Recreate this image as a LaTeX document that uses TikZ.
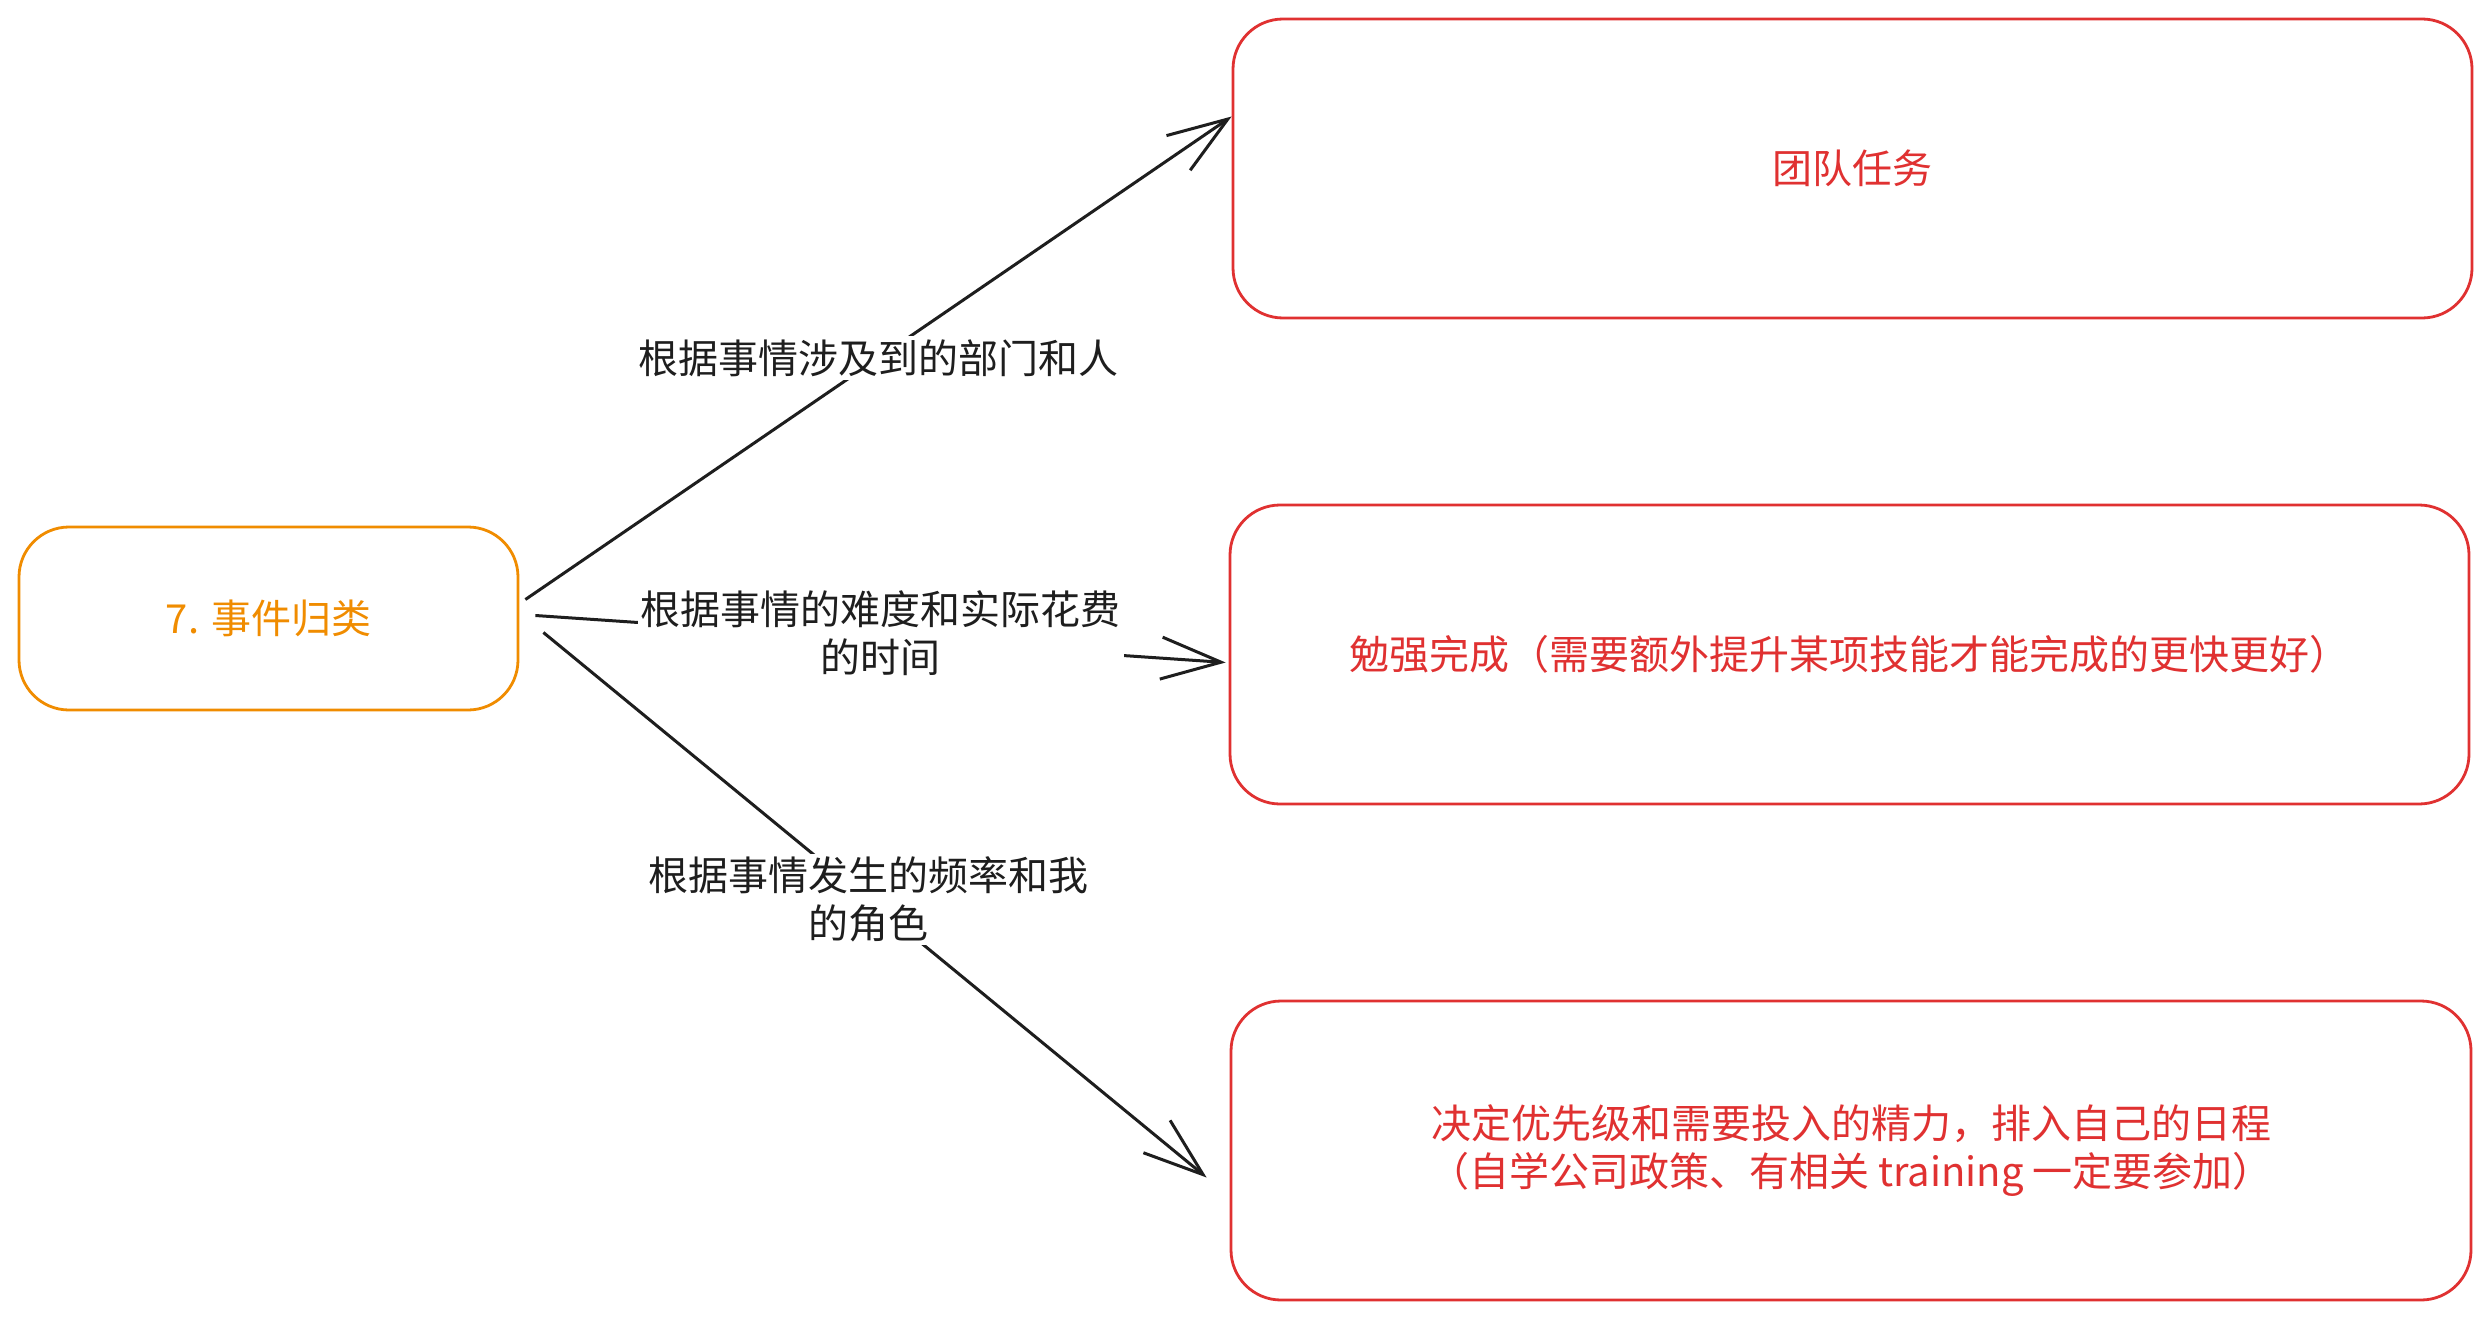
\documentclass[tikz,border=0pt]{standalone}
\usepackage{fontspec}
\setmainfont{Noto Sans CJK SC}
\usepackage{tikz}
\usetikzlibrary{arrows.meta}
\definecolor{catorange}{HTML}{F08C00}
\definecolor{boxred}{HTML}{E03131}
\definecolor{ink}{HTML}{1E1E1E}

\begin{document}
\begin{tikzpicture}[x=1pt, y=-1pt,
  font=\fontsize{40}{48}\selectfont,
  box/.style={draw, rounded corners=50pt, line width=2.8pt, align=center, inner sep=0pt},
  lbl/.style={fill=white, text=ink, align=center, inner sep=3pt}]
 \useasboundingbox[fill=white] (0,0) rectangle (2491,1319);
 % left and right boxes
 \node[box, draw=catorange, text=catorange, minimum width=499pt, minimum height=183pt] (cat) at (268.5,618.5) {7. 事件归类};
 \node[box, draw=boxred, text=boxred, minimum width=1239pt, minimum height=299pt] (team) at (1852.5,168.5) {团队任务};
 \node[box, draw=boxred, text=boxred, minimum width=1239pt, minimum height=299pt] (hard) at (1849.5,654.5) {勉强完成（需要额外提升某项技能才能完成的更快更好）};
 \node[box, draw=boxred, text=boxred, minimum width=1240pt, minimum height=299pt] (prio) at (1851,1150.5) {决定优先级和需要投入的精力，排入自己的日程\\（自学公司政策、有相关 training 一定要参加）};
 % arrows
 \path[color=ink, line width=3pt, -{Straight Barb[length=60pt,width=42pt,line width=3pt]}]
  ([xshift=6pt,yshift=19pt]cat.east) edge node [lbl] {根据事情涉及到的部门和人} ([yshift=52pt]team.west)
  ([xshift=16pt,yshift=3pt]cat.east) edge node [lbl, yshift=6pt] {根据事情的难度和实际花费\\的时间} ([xshift=-3pt,yshift=-8pt]hard.west)
  ([xshift=24pt,yshift=-14pt]cat.east) edge node [lbl, pos=.49] {根据事情发生的频率和我\\的角色} ([xshift=-23pt,yshift=-27pt]prio.west)
  ;
\end{tikzpicture}
\end{document}
